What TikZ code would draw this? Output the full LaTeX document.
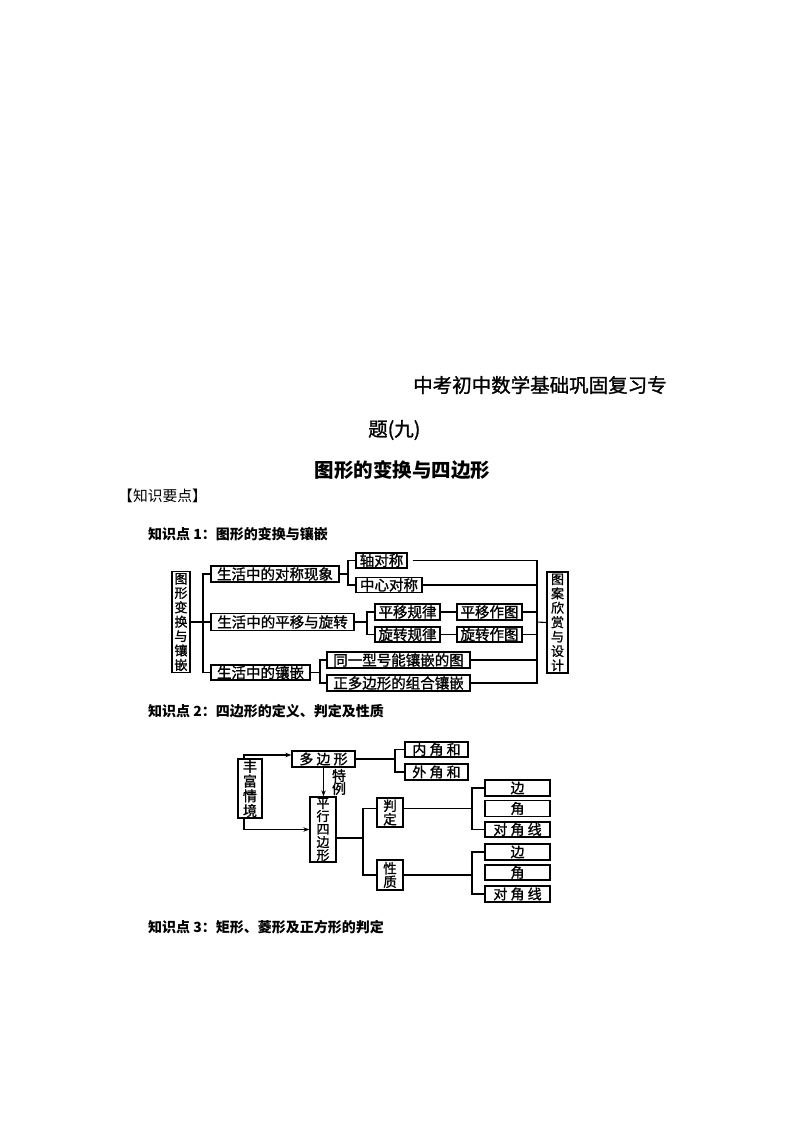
\documentclass[tikz,border=0pt]{standalone}
\usepackage{fontspec}
\setmainfont{Noto Sans CJK SC}
\newfontfamily\boxfont[FakeBold=1.2]{Noto Sans CJK SC}
\usetikzlibrary{arrows.meta}

\begin{document}
\begin{tikzpicture}[x=1pt,y=-1pt,
  sz/.style 2 args={minimum width=#1,minimum height=#2},
  box/.style={draw,line width=1.3pt,inner sep=0pt,font=\boxfont\fontsize{14.5}{14.5}\selectfont},
  vbox/.style={box,align=center,font=\boxfont\fontsize{13}{14.4}\selectfont},
  link/.style={line width=1.1pt},
  arr/.style={link,-{Stealth[length=6pt,width=4.5pt]}},
  head/.style={anchor=west,inner sep=0pt,font=\boxfont\fontsize{19.5}{20}\selectfont},
  point/.style={anchor=west,inner sep=0pt,font=\fontsize{14}{14}\selectfont\bfseries}]

  % Page
  \path[fill=white,use as bounding box] (0,0) rectangle (794,1123);

  % Title and headings
  \node[head] (title1) at (413,385) {中考初中数学基础巩固复习专};
  \node[head] (title2) at (368,430) {题(九)};
  \node[head,anchor=center,font=\fontsize{19.5}{20}\selectfont\bfseries] (title3) at (402.5,470) {图形的变换与四边形};
  \node[anchor=west,inner sep=0pt,font=\fontsize{14.8}{15}\selectfont] (yaodian) at (118,496) {【知识要点】};
  \node[point] (kp1) at (148,534) {知识点 1：图形的变换与镶嵌};
  \node[point] (kp2) at (148,711) {知识点 2：四边形的定义、判定及性质};
  \node[point] (kp3) at (148,927) {知识点 3：矩形、菱形及正方形的判定};

  % Boxes of the first chart
  \node[vbox,sz={18}{101}] (bianhuan) at (181,622) {图\\形\\变\\换\\与\\镶\\嵌};
  \node[box,sz={128}{16}] (duichen) at (275,574) {生活中的对称现象};
  \node[box,sz={143}{17}] (pingyi) at (282.5,622) {生活中的平移与旋转};
  \node[box,sz={99}{15}] (xiangqian) at (260.5,672.5) {生活中的镶嵌};
  \node[box,sz={51}{15}] (zhou) at (381.5,560.5) {轴对称};
  \node[box,sz={66}{15}] (zhongxin) at (389,585) {中心对称};
  \node[box,sz={65}{16}] (pygl) at (407.5,612) {平移规律};
  \node[box,sz={65}{15}] (xzgl) at (407.5,634.5) {旋转规律};
  \node[box,sz={65}{16}] (pyzt) at (489.5,612) {平移作图};
  \node[box,sz={65}{15}] (xzzt) at (489.5,634.5) {旋转作图};
  \node[box,sz={143}{16}] (tongyi) at (398.5,660) {同一型号能镶嵌的图};
  \node[box,sz={143}{16}] (zuhe) at (398.5,683) {正多边形的组合镶嵌};
  \node[vbox,sz={21}{101}] (sheji) at (557.5,622.5) {图\\案\\欣\\赏\\与\\设\\计};

  % Joints of the first chart
  \coordinate (j1) at (203,622);
  \coordinate (j2) at (348,574);
  \coordinate (j3) at (367,622);
  \coordinate (j4) at (320,672.5);
  \coordinate (j5) at (537,622);

  % Lines of the first chart
  \draw[link] (bianhuan.east) -- (pingyi.west);
  \draw[link] (duichen.west) -| (j1) |- (xiangqian.west);
  \draw[link] (duichen.east) -- (j2);
  \draw[link] (zhou.west) -| (j2) |- (zhongxin.west);
  \draw[link] (pingyi.east) -- (j3);
  \draw[link] (pygl.west) -| (j3) |- (xzgl.west);
  \draw[link] (pygl) -- (pyzt);
  \draw[link] (xzgl) -- (xzzt);
  \draw[link] (xiangqian.east) -- (j4);
  \draw[link] (tongyi.west) -| (j4) |- (zuhe.west);
  \draw[link] ([xshift=5pt]zhou.east) -| (j5) |- (zuhe.east);
  \draw[link] (zhongxin.east) -- (zhongxin.east -| j5);
  \draw[link] (pyzt.east) -- (pyzt.east -| j5);
  \draw[link] (xzzt.east) -- (xzzt.east -| j5);
  \draw[link] (tongyi.east) -- (tongyi.east -| j5);
  \draw[link] (j5) -- (sheji.west);

  % Boxes of the second chart
  \node[vbox,sz={24}{59},font=\boxfont\fontsize{14}{14.75}\selectfont] (fengfu) at (250,788.5) {丰\\富\\情\\境};
  \node[box,sz={63}{16},font=\boxfont\fontsize{14}{14}\selectfont] (duobian) at (323.5,759) {多 边 形};
  \node[vbox,sz={26}{65},font=\boxfont\fontsize{13}{13}\selectfont] (pxsbx) at (323,829.5) {平\\行\\四\\边\\形};
  \node[vbox,sz={26}{29},font=\boxfont\fontsize{13.5}{13.5}\selectfont] (panding) at (390,812.5) {判\\定};
  \node[vbox,sz={26}{30},font=\boxfont\fontsize{13.5}{13.5}\selectfont] (xingzhi) at (390,875) {性\\质};
  \node[box,sz={63}{15},font=\boxfont\fontsize{14}{14}\selectfont] (neijiao) at (436.5,749.5) {内 角 和};
  \node[box,sz={63}{16},font=\boxfont\fontsize{14}{14}\selectfont] (waijiao) at (436.5,772) {外 角 和};
  \node[box,sz={65}{16},font=\boxfont\fontsize{14}{14}\selectfont] (bian1) at (517.5,788) {边};
  \node[box,sz={65}{16},font=\boxfont\fontsize{14}{14}\selectfont] (jiao1) at (517.5,808.5) {角};
  \node[box,sz={65}{15},font=\boxfont\fontsize{14}{14}\selectfont] (djx1) at (517.5,829.5) {对 角 线};
  \node[box,sz={65}{16},font=\boxfont\fontsize{14}{14}\selectfont] (bian2) at (517.5,852) {边};
  \node[box,sz={65}{15},font=\boxfont\fontsize{14}{14}\selectfont] (jiao2) at (517.5,872.5) {角};
  \node[box,sz={65}{16},font=\boxfont\fontsize{14}{14}\selectfont] (djx2) at (517.5,894) {对 角 线};
  \node[inner sep=0pt,align=center,font=\boxfont\fontsize{14}{13}\selectfont] (teli) at (339,782) {特\\例};

  % Joints of the second chart
  \coordinate (k1) at (395,759);
  \coordinate (k2) at (363,838);
  \coordinate (k3) at (472,808.5);
  \coordinate (k4) at (472,875);

  % Lines of the second chart
  \draw[arr] ([xshift=-6pt]fengfu.north) |- ([yshift=4pt]duobian.west);
  \draw[arr] ([xshift=-6pt]fengfu.south) |- (pxsbx.west);
  \draw[arr] (duobian.south) -- (duobian.south |- pxsbx.north);
  \draw[link] (duobian.east) -- (k1);
  \draw[link] (neijiao.west) -| (k1) |- (waijiao.west);
  \draw[link] ([yshift=-8.5pt]pxsbx.east) -- (k2);
  \draw[link] ([yshift=4pt]panding.west) -| (k2) |- (xingzhi.west);
  \draw[link] ([yshift=4pt]panding.east) -- (k3);
  \draw[link] (bian1.west) -| (k3) |- (djx1.west);
  \draw[link] (xingzhi.east) -- (k4);
  \draw[link] (bian2.west) -| (k4) |- (djx2.west);
\end{tikzpicture}
\end{document}
